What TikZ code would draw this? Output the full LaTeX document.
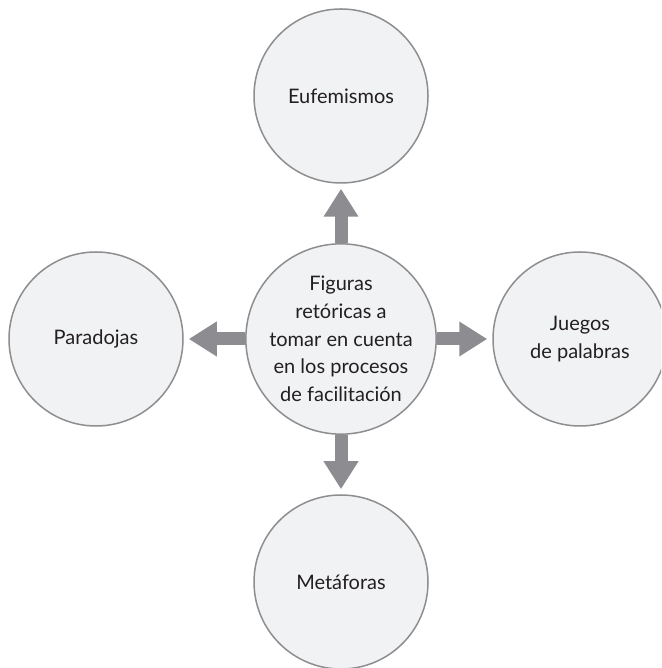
\documentclass[tikz,border=0pt]{standalone}
\usepackage{fontspec}
\setmainfont{Lato}
\usetikzlibrary{arrows.meta}
\definecolor{ringgray}{HTML}{8E8E91}
\definecolor{discfill}{HTML}{F1F2F4}
\definecolor{arrowgray}{HTML}{8D8D91}
\definecolor{inktext}{HTML}{231F20}
\tikzset{
  disc/.style={circle, draw=ringgray, line width=1.5pt, fill=discfill,
    minimum size=174pt, inner sep=0pt, align=center, text=inktext,
    font=\fontsize{20}{27.7}\selectfont},
  fatarrow/.style={draw=arrowgray, line width=13pt,
    -{Triangle[width=33pt,length=28pt]}, shorten >=5pt}
}
\begin{document}
\begin{tikzpicture}[x=1pt,y=1pt]
  \useasboundingbox (0,0) rectangle (661,668);
  \begin{scope}
    \clip (0,0) rectangle (661,668);
    % hub and the four surrounding figures
    \node[disc] (hub) at (341,329) {Figuras\\retóricas a\\tomar en cuenta\\en los procesos\\de facilitación};
    \node[disc] (euf) at (341,572) {Eufemismos};
    \node[disc] (par) at (96,329) {Paradojas};
    \node[disc] (jue) at (580,329) {Juegos\\de palabras};
    \node[disc] (met) at (341,86) {Metáforas};
    % outward arrows from the hub
    \draw[fatarrow] (hub) -- (euf);
    \draw[fatarrow] (hub) -- (par);
    \draw[fatarrow] (hub) -- (jue);
    \draw[fatarrow] (hub) -- (met);
  \end{scope}
\end{tikzpicture}
\end{document}
